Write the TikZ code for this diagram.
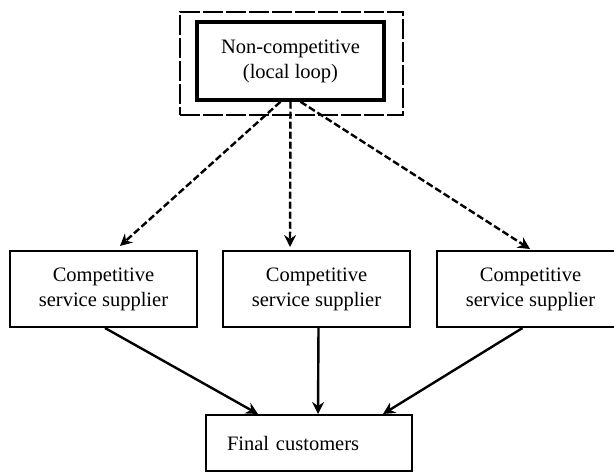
\documentclass[tikz,border=0pt]{standalone}
\usepackage{fontspec}
\setmainfont{Liberation Serif}
\usetikzlibrary{arrows.meta}
\begin{document}
\begin{tikzpicture}[x=1pt,y=-1pt,
  txt/.style={font=\fontsize{20.5}{25}\selectfont},
  box/.style={draw,line width=2pt,inner sep=0pt,minimum width=187pt,minimum height=76pt,align=center,txt},
  dasharrow/.style={line width=2.4pt,dash pattern=on 7pt off 3pt,-{Stealth[length=12pt,width=12pt,inset=4pt]}},
  solidarrow/.style={line width=2.4pt,-{Stealth[length=12pt,width=12pt,inset=4pt]}}]
\clip (0,0) rectangle (614,473);
\fill[white] (0,0) rectangle (614,473);
\node[draw,line width=2.4pt,dash pattern=on 20pt off 3pt,minimum width=223pt,minimum height=103pt,inner sep=0pt] (outer) at (291.5,63.5) {};
\node[draw,line width=3.5pt,minimum width=187pt,minimum height=78pt,inner sep=0pt,align=center,txt] (inner) at (290.5,61) {Non-competitive\\(local loop)};
\node[box] (left) at (103.5,289) {Competitive\\service supplier};
\node[box] (mid) at (316.5,289) {Competitive\\service supplier};
\node[box] (right) at (530.5,289) {Competitive\\service supplier};
\node[draw,line width=2pt,minimum height=56pt,text width=164pt,inner xsep=21pt,inner ysep=0pt,align=left,txt] (final) at (309,443) {Final customers};
\draw[dasharrow] ([xshift=-10pt]inner.south) -- ([xshift=16.5pt,yshift=4pt]left.north);
\draw[dasharrow] (inner.south) -- ([xshift=-26.5pt,yshift=3pt]mid.north);
\draw[dasharrow] ([xshift=10pt]inner.south) -- ([xshift=-0.5pt,yshift=1pt]right.north);
\draw[solidarrow] ([xshift=1.5pt]left.south) -- ([xshift=-51pt]final.north);
\draw[solidarrow] ([xshift=2pt]mid.south) -- ([xshift=9pt]final.north);
\draw[solidarrow] ([xshift=-8pt]right.south) -- ([xshift=74pt]final.north);
\end{tikzpicture}
\end{document}
